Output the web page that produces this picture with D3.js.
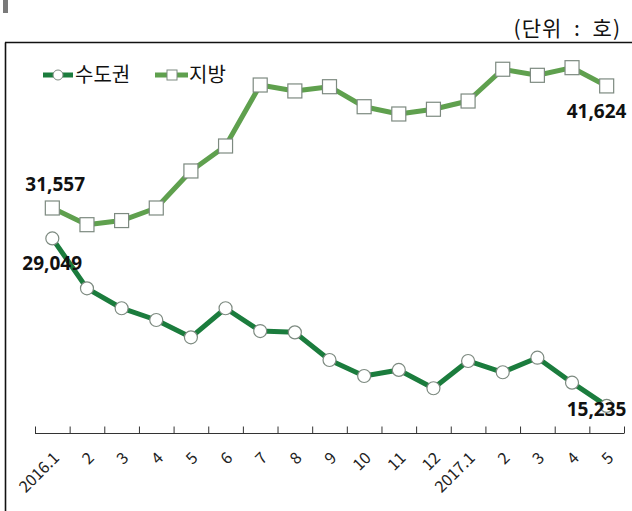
<!DOCTYPE html>
<html><head><meta charset="utf-8">
<script src="https://cdn.jsdelivr.net/npm/d3@7"></script>
<style>
html,body{margin:0;padding:0;background:#fff;}
svg{display:block;font-family:"Noto Sans CJK KR","Noto Sans",sans-serif;}
</style></head>
<body>
<svg id="chart" width="632" height="511"></svg>
<script>
const categories = ["2016.1","2","3","4","5","6","7","8","9","10","11","12","2017.1","2","3","4","5"];
const capitalValues = [29049,24930,23290,22320,20890,23290,21410,21300,19020,17700,18200,16690,18940,18010,19210,17150,15235];
const regionValues = [31557,30180,30520,31557,34610,36670,41700,41210,41560,39910,39310,39700,40380,43000,42500,43130,41624];
const seriesNames = ["수도권","지방"];
const unitLabel = "(단위 : 호)";
const yDomain = [13000, 45000];

const svg = d3.select("#chart");
const W = 632, H = 511;

// decorations: small gray bar and frame
svg.append("rect").attr("x",3).attr("y",0).attr("width",5).attr("height",13).attr("fill","#7a7a7a");
svg.append("line").attr("x1",5.5).attr("x2",5.5).attr("y1",42.5).attr("y2",H).attr("stroke","#111").attr("stroke-width",1.6);
svg.append("line").attr("x1",5).attr("x2",W).attr("y1",42.5).attr("y2",42.5).attr("stroke","#111").attr("stroke-width",1.6);

svg.append("text").attr("x",621).attr("y",36).attr("text-anchor","end")
  .attr("font-size",21).attr("letter-spacing",1).attr("word-spacing",6).attr("fill","#111")
  .text(unitLabel);

const idx = d3.range(categories.length);
const x = d3.scaleBand().domain(idx).range([35, 624]).padding(0);
const xc = i => x(i) + x.bandwidth()/2;
const xTick = d3.scaleLinear().domain([0, categories.length]).range([35, 624]);
const y = d3.scaleLinear().domain(yDomain).range([433, 45]);

// axis with ticks at category boundaries (upward)
const axisG = svg.append("g").attr("transform","translate(0,433.5)");
axisG.call(d3.axisBottom(xTick).tickValues(d3.range(categories.length+1)).tickSize(-7).tickFormat(""));
axisG.select(".domain").attr("stroke","#333").attr("d","M35,0H624");
axisG.selectAll(".tick line").attr("stroke","#333");

// category labels
const labG = svg.append("g").attr("transform","translate(0,433)");
labG.call(d3.axisBottom(x).tickSize(0).tickFormat(i => categories[i]));
labG.select(".domain").remove();
labG.selectAll(".tick text")
  .attr("font-size",16).attr("fill","#222")
  .attr("font-family","'Noto Sans CJK KR',sans-serif")
  .attr("text-anchor","end")
  .attr("transform","translate(4,22) rotate(-45)")
  .attr("dy","0.35em").attr("y",0);

const capColor = "#1b7c3d", regColor = "#5fa04e", markStroke = "#7d8a80";
const line = d3.line().x((d,i)=>xc(i)).y(d=>y(d));

svg.append("path").datum(regionValues).attr("d",line).attr("fill","none")
  .attr("stroke",regColor).attr("stroke-width",5).attr("stroke-linejoin","round");
svg.append("path").datum(capitalValues).attr("d",line).attr("fill","none")
  .attr("stroke",capColor).attr("stroke-width",5).attr("stroke-linejoin","round");

const sq = 14;
svg.append("g").selectAll("rect").data(regionValues).join("rect")
  .attr("x",(d,i)=>xc(i)-sq/2).attr("y",d=>y(d)-sq/2)
  .attr("width",sq).attr("height",sq)
  .attr("fill","#fff").attr("stroke",markStroke).attr("stroke-width",1.2);
svg.append("g").selectAll("circle").data(capitalValues).join("circle")
  .attr("cx",(d,i)=>xc(i)).attr("cy",d=>y(d)).attr("r",6.5)
  .attr("fill","#fff").attr("stroke",markStroke).attr("stroke-width",1.2);

// value labels
const fmt = d3.format(",");
const last = categories.length-1;
const labels = [
  {v: regionValues[0], x: xc(0)-27, y: y(regionValues[0])-17},
  {v: capitalValues[0], x: xc(0)-30, y: y(capitalValues[0])+32},
  {v: regionValues[last], x: xc(last)-40, y: y(regionValues[last])+32},
  {v: capitalValues[last], x: xc(last)-40, y: y(capitalValues[last])+10}
];
svg.append("g").selectAll("text").data(labels).join("text")
  .attr("x",d=>d.x).attr("y",d=>d.y)
  .attr("font-size",19).attr("font-weight","bold").attr("fill","#111")
  .attr("font-family","'Noto Sans','Noto Sans CJK KR',sans-serif")
  .text(d=>fmt(d.v));

// legend
const lg = svg.append("g");
lg.append("line").attr("x1",43).attr("x2",73).attr("y1",75).attr("y2",75).attr("stroke",capColor).attr("stroke-width",5);
lg.append("circle").attr("cx",58).attr("cy",75).attr("r",5).attr("fill","#fff").attr("stroke",markStroke);
lg.append("text").attr("x",75).attr("y",82).attr("font-size",20).attr("fill","#111").text(seriesNames[0]);
lg.append("line").attr("x1",155).attr("x2",188).attr("y1",75).attr("y2",75).attr("stroke",regColor).attr("stroke-width",5);
lg.append("rect").attr("x",167).attr("y",70).attr("width",10).attr("height",10).attr("fill","#fff").attr("stroke",markStroke);
lg.append("text").attr("x",189).attr("y",82).attr("font-size",20).attr("fill","#111").text(seriesNames[1]);
</script>
</body></html>
